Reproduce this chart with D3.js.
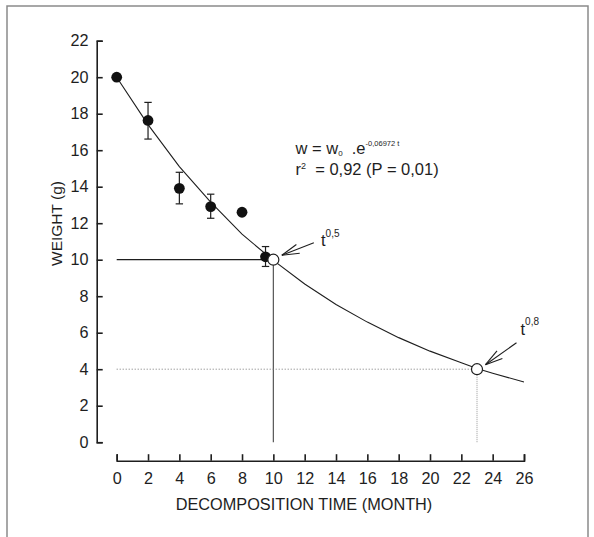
<!DOCTYPE html>
<html>
<head>
<meta charset="utf-8">
<script src="https://cdn.jsdelivr.net/npm/d3@7"></script>
<style>
  html, body { margin: 0; padding: 0; background: #fff; }
  svg { display: block; font-family: "Liberation Sans", Arial, sans-serif; }
</style>
</head>
<body>
<svg id="chart" width="594" height="537"></svg>
<script>
// Measured litter weight (g) over decomposition time (months)
const obsTime   = [0, 2, 4, 6, 8, 9.5];
const obsWeight = [20, 17.63, 13.91, 12.91, 12.6, 10.16];
const obsLow    = [null, 16.61, 13.06, 12.27, 12.45, 9.63];
const obsHigh   = [null, 18.62, 14.79, 13.59, 12.75, 10.72];

// Fitted exponential decay curve, w = w0 . e^(-0.06972 t)
const fitTime   = [0, 2, 4, 6, 8, 10, 12, 14, 16, 18, 20, 22, 23, 24, 26];
const fitWeight = [20, 17.4, 15.1, 13.15, 11.4, 9.96, 8.67, 7.55, 6.58, 5.73, 4.99, 4.35, 4.04, 3.78, 3.3];

// Half-life and 80 % loss markers
const markTime   = [10, 23];
const markWeight = [10, 4];
const markLabel  = ["0,5", "0,8"];

// Axis ticks
const xTicks = [0, 2, 4, 6, 8, 10, 12, 14, 16, 18, 20, 22, 24, 26];
const yTicks = [0, 2, 4, 6, 8, 10, 12, 14, 16, 18, 20, 22];

const svg = d3.select("#chart");
const ink = "#1e1e1e";

const x = d3.scaleLinear().domain([0, 26]).range([116.7, 524]);
const y = d3.scaleLinear().domain([0, 22]).range([442.2, 40.7]);

// Outer frame
svg.append("path")
  .attr("d", "M7,537 V6 H588 V537")
  .attr("fill", "none").attr("stroke", "#8a8a8a").attr("stroke-width", 1.5);

// Y axis (ticks pointing inward)
const yAxis = svg.append("g")
  .attr("transform", "translate(96.7,0)")
  .call(d3.axisLeft(y).tickValues(yTicks).tickSize(-6).tickSizeOuter(-6).tickPadding(8.3));
// X axis, set below the plot (ticks pointing up)
const xAxis = svg.append("g")
  .attr("transform", "translate(0,460.7)")
  .call(d3.axisBottom(x).tickValues(xTicks).tickSize(-6.5).tickSizeOuter(-6.5).tickPadding(12));

[yAxis, xAxis].forEach(g => {
  g.select(".domain").attr("stroke", ink).attr("stroke-width", 1.6);
  g.selectAll(".tick line").attr("stroke", ink).attr("stroke-width", 1.6);
  g.selectAll(".tick text").attr("fill", ink).style("font-size", "16.2px").style("font-family", "Liberation Sans, Arial, sans-serif");
});

// Axis titles
svg.append("text")
  .attr("x", 304).attr("y", 509.5)
  .attr("text-anchor", "middle").attr("fill", ink).style("font-size", "16.3px")
  .text("DECOMPOSITION TIME (MONTH)");
svg.append("text")
  .attr("transform", "translate(62,223.5) rotate(-90)")
  .attr("text-anchor", "middle").attr("fill", ink).style("font-size", "15.5px")
  .text("WEIGHT (g)");

// Reference lines for t0,5 (solid) and t0,8 (dotted)
svg.append("line")
  .attr("x1", x(0)).attr("x2", x(markTime[0])).attr("y1", y(markWeight[0])).attr("y2", y(markWeight[0]))
  .attr("stroke", ink).attr("stroke-width", 1.2);
svg.append("line")
  .attr("x1", x(markTime[0])).attr("x2", x(markTime[0])).attr("y1", y(markWeight[0])).attr("y2", y(0))
  .attr("stroke", "#555").attr("stroke-width", 1.2);
svg.append("line")
  .attr("x1", x(0)).attr("x2", x(markTime[1])).attr("y1", y(markWeight[1])).attr("y2", y(markWeight[1]))
  .attr("stroke", "#777").attr("stroke-width", 1).attr("stroke-dasharray", "1,2");
svg.append("line")
  .attr("x1", x(markTime[1])).attr("x2", x(markTime[1])).attr("y1", y(markWeight[1])).attr("y2", y(0))
  .attr("stroke", "#999").attr("stroke-width", 1).attr("stroke-dasharray", "1,1");

// Fitted curve
const fit = fitTime.map((t, i) => [t, fitWeight[i]]);
svg.append("path")
  .datum(fit)
  .attr("fill", "none").attr("stroke", ink).attr("stroke-width", 1.1)
  .attr("d", d3.line().x(d => x(d[0])).y(d => y(d[1])));

// Error bars
const obs = obsTime.map((t, i) => ({ t, w: obsWeight[i], lo: obsLow[i], hi: obsHigh[i] }));
const eb = svg.append("g").attr("stroke", ink).attr("stroke-width", 1.2);
obs.filter(d => d.lo !== null).forEach(d => {
  eb.append("line").attr("x1", x(d.t)).attr("x2", x(d.t)).attr("y1", y(d.lo)).attr("y2", y(d.hi));
  [d.lo, d.hi].forEach(v => eb.append("line")
    .attr("x1", x(d.t) - 3.7).attr("x2", x(d.t) + 3.7).attr("y1", y(v)).attr("y2", y(v)));
});

// Observed means
svg.append("g").selectAll("circle").data(obs).join("circle")
  .attr("cx", d => x(d.t)).attr("cy", d => y(d.w)).attr("r", 5.4)
  .attr("fill", "#111");

// Marker points
svg.append("g").selectAll("circle").data(markTime).join("circle")
  .attr("cx", (d, i) => x(d)).attr("cy", (d, i) => y(markWeight[i])).attr("r", 5.5)
  .attr("fill", "#fff").attr("stroke", ink).attr("stroke-width", 1.2);

// Arrows pointing at the markers, with labels
const arrowSpec = [
  { dx: 32, dy: -12.5, lx: 321, ly: 246 },
  { dx: 31, dy: -22, lx: 520.5, ly: 334.5 }
];
markTime.forEach((t, i) => {
  const s = arrowSpec[i];
  const tipX = x(t) + 8.5, tipY = y(markWeight[i]) - 4.5;
  const ang = Math.atan2(s.dy, s.dx);
  const g = svg.append("g").attr("stroke", ink).attr("stroke-width", 1.1);
  g.append("line").attr("x1", tipX).attr("y1", tipY).attr("x2", tipX + s.dx).attr("y2", tipY + s.dy);
  [-0.26, 0.26].forEach(a => g.append("line")
    .attr("x1", tipX).attr("y1", tipY)
    .attr("x2", tipX + 18 * Math.cos(ang + a)).attr("y2", tipY + 18 * Math.sin(ang + a)));
  const lbl = svg.append("text").attr("x", s.lx).attr("y", s.ly).attr("fill", ink).style("font-size", "16.5px");
  lbl.append("tspan").text("t");
  lbl.append("tspan").attr("dy", -9.5).style("font-size", "10px").text(markLabel[i]);
});

// Fit equation
const eq1 = svg.append("text").attr("x", 295.5).attr("y", 154).attr("fill", ink).style("font-size", "16.5px");
eq1.append("tspan").text("w = w");
eq1.append("tspan").attr("dy", 2).style("font-size", "8px").text("0");
eq1.append("tspan").attr("dy", -2).text("\u00a0 .e");
eq1.append("tspan").attr("dy", -8).style("font-size", "7.5px").text("-0,06972 t");

const eq2 = svg.append("text").attr("x", 295.5).attr("y", 174.5).attr("fill", ink).style("font-size", "16.5px");
eq2.append("tspan").text("r");
eq2.append("tspan").attr("dy", -6).style("font-size", "9px").text("2");
eq2.append("tspan").attr("dy", 6).text("\u00a0 = 0,92 (P = 0,01)");
</script>
</body>
</html>
